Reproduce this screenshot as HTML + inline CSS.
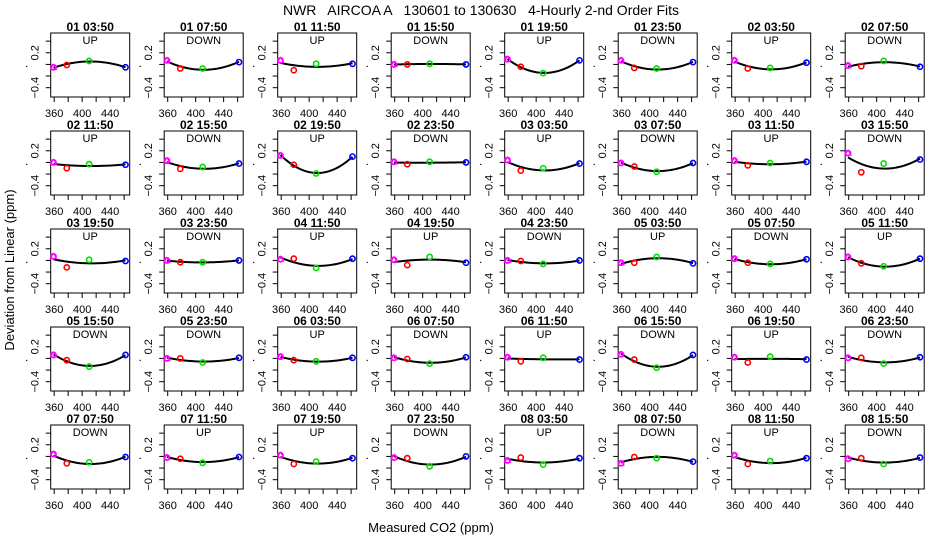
<!DOCTYPE html>
<html><head><meta charset="utf-8">
<style>
html,body{margin:0;padding:0;background:#fff;}
svg{display:block;font-family:"Liberation Sans",sans-serif;}
</style></head>
<body>
<svg id="chart" width="936" height="540" viewBox="0 0 936 540">
<text x="481" y="15" font-size="14" text-anchor="middle" xml:space="preserve">NWR   AIRCOA A   130601 to 130630   4-Hourly 2-nd Order Fits</text>
<text x="431" y="532" font-size="13" text-anchor="middle">Measured CO2 (ppm)</text>
<text transform="translate(14,270) rotate(-90)" font-size="13" text-anchor="middle">Deviation from Linear (ppm)</text>
<g id="panels"></g>
</svg>
<script>
const panelTitles = ["01 03:50","01 07:50","01 11:50","01 15:50","01 19:50","01 23:50","02 03:50","02 07:50",
"02 11:50","02 15:50","02 19:50","02 23:50","03 03:50","03 07:50","03 11:50","03 15:50",
"03 19:50","03 23:50","04 11:50","04 19:50","04 23:50","05 03:50","05 07:50","05 11:50",
"05 15:50","05 23:50","06 03:50","06 07:50","06 11:50","06 15:50","06 19:50","06 23:50",
"07 07:50","07 11:50","07 19:50","07 23:50","08 03:50","08 07:50","08 11:50","08 15:50"];
const panelDirs = ["UP","DOWN","UP","DOWN","UP","DOWN","UP","DOWN",
"UP","DOWN","UP","DOWN","UP","DOWN","UP","DOWN",
"UP","DOWN","UP","UP","DOWN","UP","DOWN","UP",
"DOWN","DOWN","UP","DOWN","UP","DOWN","UP","DOWN",
"DOWN","UP","UP","DOWN","UP","DOWN","UP","DOWN"];
const standardCO2 = [359,378,410,462];
const magentaDev = [-0.05,0.07,0.07,0,0.09,0.07,0.07,-0.02, 0,0.03,0.12,0.01,0.04,-0.01,0.03,0.16, 0.07,0,0.02,0.01,0,-0.04,0.03,0.06, 0.06,0,0.03,0.01,0.02,0.07,0.02,0.01, 0.04,-0.02,0.02,-0.02,-0.07,-0.12,0.02,-0.04];
const redDev = [-0.01,-0.07,-0.1,0,-0.04,-0.06,-0.07,-0.03, -0.1,-0.11,-0.04,-0.03,-0.14,-0.07,-0.05,-0.17, -0.12,-0.03,0.03,-0.08,-0.01,-0.04,-0.04,-0.05, -0.03,0,-0.03,-0.01,-0.05,-0.02,-0.07,0.01, -0.12,-0.04,-0.13,-0.03,-0.02,-0.01,-0.13,-0.03];
const greenDev = [0.06,-0.07,0.01,0.01,-0.15,-0.07,-0.06,0.06, -0.03,-0.08,-0.19,0.01,-0.1,-0.16,-0.01,-0.02, 0.01,-0.03,-0.13,0.06,-0.06,0.06,-0.06,-0.1, -0.14,-0.07,-0.05,-0.09,0.01,-0.16,0.03,-0.09, -0.1,-0.11,-0.09,-0.17,-0.14,-0.03,-0.08,-0.13];
const blueDev = [-0.05,0.04,0.01,0,0.07,0.04,0.03,-0.04, -0.04,-0.02,0.1,0,-0.02,-0.01,0.01,0.05, -0.01,0,0.03,-0.04,0,-0.05,0.02,0.03, 0.06,0.01,0.01,0.02,-0.02,0.06,-0.02,0.02, -0.01,-0.01,-0.03,0,-0.03,-0.09,-0.03,-0.02];
const xTicks = [360,380,400,420,440,460];
const xTickLabels = ["360","400","440"];
const yTicks = [-0.4,-0.2,0,0.2,0.4];
const yTickLabels = ["0.2","-0.4"];
const seriesColors = ["#ff00ff","#ff0000","#00dd00","#0000ff"];

const NS="http://www.w3.org/2000/svg";
const root=document.getElementById('panels');
const BW=79,BH=64,X0=50.7,Y0=33,DX=113.5,DY=98;
const XMIN=355,XMAX=468,YMIN=-0.56,YMAX=0.54;
function mk(tag,attrs,parent){const e=document.createElementNS(NS,tag);for(const k in attrs)e.setAttribute(k,attrs[k]);parent.appendChild(e);return e;}
function fitQuad(xs,ys){
  const m=410;let S=[0,0,0,0,0],T=[0,0,0];
  for(let i=0;i<xs.length;i++){const u=xs[i]-m;let p=1;for(let k=0;k<5;k++){S[k]+=p;if(k<3)T[k]+=p*ys[i];p*=u;}}
  const A=[[S[0],S[1],S[2],T[0]],[S[1],S[2],S[3],T[1]],[S[2],S[3],S[4],T[2]]];
  for(let i=0;i<3;i++){for(let j=i+1;j<3;j++){const f=A[j][i]/A[i][i];for(let k=i;k<4;k++)A[j][k]-=f*A[i][k];}}
  const c=[0,0,0];for(let i=2;i>=0;i--){let s=A[i][3];for(let k=i+1;k<3;k++)s-=A[i][k]*c[k];c[i]=s/A[i][i];}
  return x=>{const u=x-m;return c[0]+c[1]*u+c[2]*u*u;};
}
panelTitles.forEach((title,i)=>{
  const r=Math.floor(i/8),c=i%8;
  const L=X0+c*DX,T=Y0+r*DY;
  const sx=v=>L+(v-XMIN)/(XMAX-XMIN)*BW;
  const sy=v=>T+(YMAX-v)/(YMAX-YMIN)*BH;
  const g=mk('g',{},root);
  
  
  const t=mk('text',{x:L+BW/2,y:T-2,'font-size':12,'font-weight':'bold','text-anchor':'middle'},g);
  
  
  t.textContent=title;
  const box=mk('rect',{x:L,y:T,width:BW,height:BH,fill:'none',stroke:'#000','stroke-width':1},g);
  
  
  const st=mk('text',{x:L+BW/2,y:T+11,'font-size':11,'text-anchor':'middle'},g);
  
  
  st.textContent=panelDirs[i];
  xTicks.forEach(v=>{mk('line',{x1:sx(v),x2:sx(v),y1:T+BH,y2:T+BH+5,stroke:'#000'},g);});
  xTickLabels.forEach(s=>{const e=mk('text',{x:sx(+s),y:T+BH+20,'font-size':11,'text-anchor':'middle'},g);
    
    
    e.textContent=s;});
  yTicks.forEach(v=>{mk('line',{x1:L-5,x2:L,y1:sy(v),y2:sy(v),stroke:'#000'},g);});
  yTickLabels.forEach(s=>{const e=mk('text',{transform:`translate(${L-12},${sy(+s)}) rotate(-90)`,'font-size':11,'text-anchor':'middle'},g);
    
    
    e.textContent=s.replace('-','\u2212');});
  mk('circle',{cx:L-24,cy:sy(0)+2,r:0.7,fill:'#000'},g);
  const ys=[magentaDev[i],redDev[i],greenDev[i],blueDev[i]];
  const f=fitQuad(standardCO2,ys);
  let d='';for(let k=0;k<=40;k++){const x=standardCO2[0]+(standardCO2[3]-standardCO2[0])*k/40;d+=(k?'L':'M')+sx(x).toFixed(2)+','+sy(f(x)).toFixed(2);}
  const fl=mk('path',{d:d,fill:'none',stroke:'#000','stroke-width':2},g);
  
  
  ys.forEach((v,k)=>{
    const px=sx(standardCO2[k]),py=sy(v);
    const p=mk('circle',{cx:px,cy:py,r:2.6,fill:'none',stroke:seriesColors[k],'stroke-width':1.6},g);
    
    
    if(k===0){mk('path',{d:`M${px-3},${py+2}L${px},${py-3}L${px+3},${py+2}Z`,fill:'none',stroke:seriesColors[0],'stroke-width':1},g);}
  });
});
</script>
</body></html>
